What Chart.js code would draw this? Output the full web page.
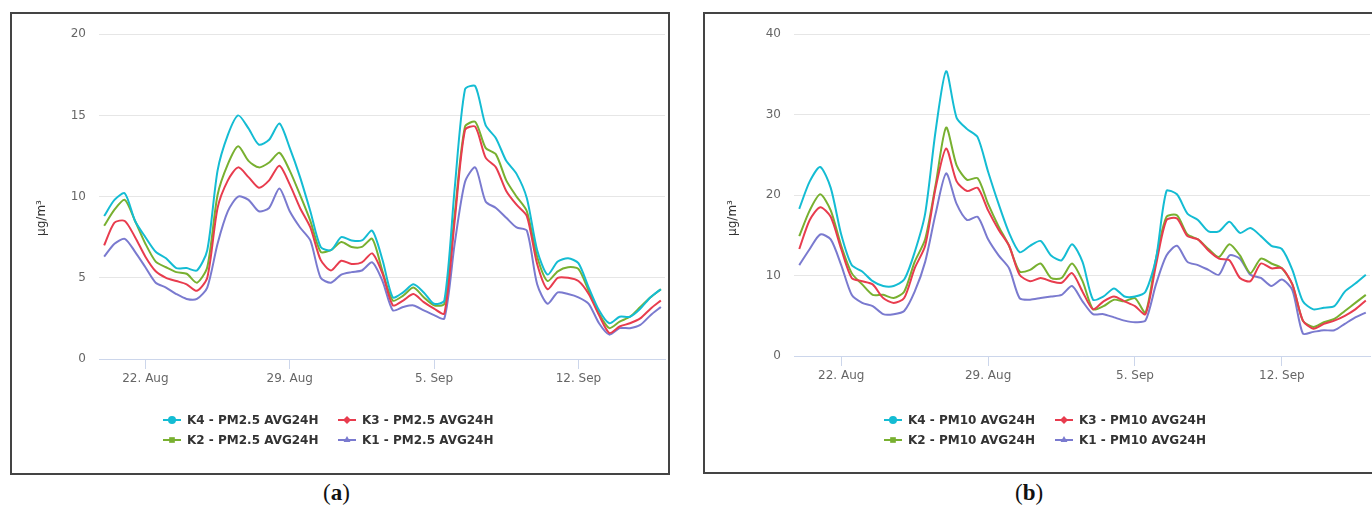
<!DOCTYPE html>
<html>
<head>
<meta charset="utf-8">
<title>PM2.5 / PM10 AVG24H</title>
<script src="https://cdn.jsdelivr.net/npm/chart.js"></script>
<style>
  body { margin: 0; width: 1372px; height: 511px; background: #fff; overflow: hidden; position: relative; font-family: "DejaVu Sans", sans-serif; }
  .panel { position: absolute; box-sizing: border-box; border: 2px solid #444; background: #fff; }
  .panel canvas { position: absolute; left: 0; top: 0; }
  .caption { position: absolute; top: 480px; font-family: "Liberation Serif", serif; font-size: 23px; color: #111; }
  .caption b { font-weight: bold; }
</style>
</head>
<body>

<div class="panel" style="left:10px; top:12px; width:660px; height:463px;">
  <canvas id="chartA" width="656" height="459"></canvas>
</div>
<div class="panel" style="left:703px; top:12px; width:700px; height:462px;">
  <canvas id="chartB" width="667" height="458"></canvas>
</div>
<div class="caption" style="left:323px;">(<b>a</b>)</div>
<div class="caption" style="left:1015px;">(<b>b</b>)</div>

<script>
// day of month, counted from 1 Aug (32 = 1 Sep), one value every 12 h
const days = [20, 20.5, 21, 21.5, 22, 22.5, 23, 23.5, 24, 24.5, 25, 25.5, 26, 26.5, 27, 27.5, 28, 28.5, 29, 29.5,
  30, 30.5, 31, 31.5, 32, 32.5, 33, 33.5, 34, 34.5, 35, 35.5, 36, 36.5, 37, 37.5, 38, 38.5, 39, 39.5,
  40, 40.5, 41, 41.5, 42, 42.5, 43, 43.5, 44, 44.5, 45, 45.5, 46, 46.5, 47];

const xTickDays = [22, 29, 36, 43];
const xTickLabels = ['22. Aug', '29. Aug', '5. Sep', '12. Sep'];

// (a) PM2.5
const pm25K4 = [8.8, 9.8, 10.2, 8.5, 7.5, 6.6, 6.2, 5.6, 5.6, 5.45, 6.7, 11.6, 13.8, 15.0, 14.2, 13.2, 13.5, 14.5, 13.0, 11.2,
  9.1, 6.9, 6.7, 7.5, 7.3, 7.3, 7.9, 6.1, 3.8, 4.1, 4.6, 4.1, 3.4, 3.6, 10.5, 16.6, 16.8, 14.4, 13.6, 12.2,
  11.4, 9.9, 6.7, 5.2, 6.0, 6.2, 5.9, 4.4, 3.0, 2.2, 2.6, 2.6, 3.1, 3.8, 4.3];
const pm25K3 = [7.0, 8.4, 8.5, 7.5, 6.3, 5.4, 5.0, 4.8, 4.6, 4.2, 5.0, 9.3, 11.0, 11.8, 11.2, 10.55, 11.0, 11.9, 10.75, 9.3,
  8.1, 6.1, 5.45, 6.05, 5.85, 5.95, 6.5, 5.25, 3.3, 3.6, 4.0, 3.5, 3.1, 2.8, 8.5, 14.1, 14.3, 12.4, 11.8, 10.35,
  9.5, 8.8, 5.85, 4.3, 5.0, 5.0, 4.8, 4.0, 2.7, 1.6, 2.0, 2.2, 2.5, 3.1, 3.6];
const pm25K2 = [8.2, 9.2, 9.8, 8.5, 7.1, 6.0, 5.65, 5.35, 5.25, 4.7, 5.65, 10.1, 12.0, 13.1, 12.2, 11.8, 12.1, 12.7, 11.6, 10.1,
  8.5, 6.6, 6.7, 7.2, 6.9, 6.9, 7.4, 5.4, 3.6, 3.9, 4.4, 3.8, 3.3, 3.4, 8.9, 14.3, 14.6, 13.0, 12.6, 11.0,
  10.0, 9.1, 6.3, 4.8, 5.4, 5.65, 5.55, 4.2, 2.8, 1.9, 2.3, 2.6, 3.2, 3.8, 4.3];
const pm25K1 = [6.3, 7.1, 7.4, 6.6, 5.65, 4.7, 4.4, 4.0, 3.7, 3.7, 4.4, 7.1, 9.1, 10.0, 9.8, 9.1, 9.3, 10.5, 9.1, 8.1,
  7.3, 5.0, 4.7, 5.2, 5.35, 5.45, 5.95, 4.8, 3.0, 3.2, 3.3, 3.0, 2.7, 2.5, 7.1, 10.9, 11.8, 9.7, 9.3, 8.7,
  8.1, 7.9, 4.6, 3.4, 4.1, 4.0, 3.8, 3.4, 2.2, 1.5, 1.9, 1.9, 2.1, 2.7, 3.2];

// (b) PM10
const pm10K4 = [18.3, 21.7, 23.5, 20.9, 15.1, 11.3, 10.5, 9.3, 8.7, 8.7, 9.5, 12.9, 17.7, 28.0, 35.4, 29.6, 28.2, 27.2, 22.9, 18.9,
  15.3, 12.9, 13.7, 14.3, 12.5, 11.9, 13.9, 11.7, 7.0, 7.4, 8.4, 7.4, 7.4, 8.0, 12.1, 20.5, 20.1, 17.7, 16.9, 15.5,
  15.5, 16.7, 15.3, 15.9, 14.9, 13.7, 13.3, 10.7, 6.8, 5.8, 6.0, 6.2, 8.0, 9.0, 10.1];
const pm10K3 = [13.3, 16.9, 18.5, 17.3, 13.3, 9.7, 9.3, 8.9, 7.2, 6.6, 7.2, 10.9, 13.7, 20.9, 25.8, 21.7, 20.5, 20.9, 18.1, 15.7,
  13.7, 10.1, 9.3, 9.7, 9.3, 9.1, 10.3, 8.0, 5.8, 6.8, 7.4, 6.8, 6.2, 5.2, 11.3, 16.9, 17.1, 14.9, 14.5, 13.1,
  12.1, 11.9, 9.7, 9.3, 11.5, 10.9, 10.9, 8.9, 4.4, 3.4, 4.0, 4.4, 5.0, 5.8, 6.9];
const pm10K2 = [14.9, 18.1, 20.1, 18.1, 13.7, 10.3, 8.9, 7.6, 7.6, 7.2, 8.0, 11.7, 14.5, 21.3, 28.4, 23.7, 21.9, 22.1, 18.9, 16.1,
  13.7, 10.5, 10.7, 11.5, 9.7, 9.7, 11.5, 9.3, 5.8, 6.2, 7.0, 6.8, 7.2, 5.4, 12.1, 17.3, 17.5, 15.1, 14.5, 13.3,
  12.3, 13.9, 12.5, 10.3, 12.1, 11.5, 10.9, 8.9, 4.4, 3.6, 4.2, 4.6, 5.6, 6.6, 7.6];
const pm10K1 = [11.3, 13.3, 15.1, 14.5, 11.3, 7.6, 6.6, 6.2, 5.2, 5.2, 5.6, 8.0, 11.7, 17.7, 22.7, 18.9, 16.9, 17.3, 14.5, 12.5,
  10.9, 7.2, 7.0, 7.2, 7.4, 7.6, 8.7, 6.8, 5.2, 5.2, 4.8, 4.4, 4.2, 4.4, 8.9, 12.5, 13.7, 11.7, 11.3, 10.7,
  10.1, 12.5, 12.1, 10.1, 9.7, 8.7, 9.5, 8.2, 2.8, 3.0, 3.2, 3.2, 4.0, 4.8, 5.4];

const colors = { K4: '#14bcd3', K3: '#e83c4e', K2: '#78b030', K1: '#7a7acf' };

// legend in two rows (K4 K3 / K2 K1) plus the rotated unit title
const sideBits = {
  id: 'sideBits',
  afterDraw(chart, args, opts) {
    const ctx = chart.ctx;
    ctx.save();
    chart.data.datasets.forEach((ds, i) => {
      const x = opts.x + (i % 2) * opts.colGap;
      const y = opts.y + Math.floor(i / 2) * 20;
      ctx.strokeStyle = ds.borderColor;
      ctx.lineWidth = 2;
      ctx.beginPath();
      ctx.moveTo(x, y);
      ctx.lineTo(x + 18, y);
      ctx.stroke();
      ctx.fillStyle = ds.borderColor;
      Chart.helpers.drawPoint(ctx, { pointStyle: ds.pointStyle, radius: 4, rotation: 0, borderWidth: 0 }, x + 9, y);
      ctx.fillStyle = '#333';
      ctx.font = 'bold 12px "DejaVu Sans"';
      ctx.textAlign = 'left';
      ctx.textBaseline = 'middle';
      ctx.fillText(ds.label, x + 24, y + 1);
    });

    ctx.translate(opts.titleX, opts.titleY);
    ctx.rotate(-Math.PI / 2);
    ctx.fillStyle = '#333';
    ctx.font = '12px "DejaVu Sans"';
    ctx.textAlign = 'center';
    ctx.textBaseline = 'middle';
    ctx.fillText('μg/m³', 0, 0);
    ctx.restore();
  }
};

function makeSet(label, values, color, shape) {
  return {
    label: label,
    data: days.map((d, i) => ({ x: d, y: values[i] })),
    borderColor: color,
    backgroundColor: color,
    borderWidth: 2,
    pointRadius: 0,
    pointStyle: shape,
    tension: 0.25
  };
}

function renderChart(id, pm, series, yMax, yStep, box) {
  const ctx = document.getElementById(id).getContext('2d');
  return new Chart(ctx, {
    type: 'line',
    data: {
      datasets: [
        makeSet('K4 - ' + pm + ' AVG24H', series[0], colors.K4, 'circle'),
        makeSet('K3 - ' + pm + ' AVG24H', series[1], colors.K3, 'rectRot'),
        makeSet('K2 - ' + pm + ' AVG24H', series[2], colors.K2, 'rect'),
        makeSet('K1 - ' + pm + ' AVG24H', series[3], colors.K1, 'triangle')
      ]
    },
    options: {
      responsive: false,
      animation: false,
      devicePixelRatio: 1,
      layout: { padding: { top: box.top, right: box.right, bottom: box.bottom, left: 0 } },
      plugins: {
        legend: { display: false },
        tooltip: { enabled: false },
        sideBits: box.legend
      },
      scales: {
        x: {
          type: 'linear',
          min: 19.75,
          max: 47.2,
          afterBuildTicks: axis => { axis.ticks = xTickDays.map(v => ({ value: v })); },
          afterFit: axis => { axis.height = 30; },
          ticks: {
            color: '#666',
            font: { family: 'DejaVu Sans', size: 12 },
            padding: 3,
            maxRotation: 0,
            callback: v => xTickLabels[xTickDays.indexOf(v)]
          },
          grid: { drawOnChartArea: false, drawTicks: true, tickLength: 10, color: '#ccd6eb' },
          border: { color: '#ccd6eb', width: 1 }
        },
        y: {
          min: 0,
          max: yMax,
          afterFit: axis => { axis.width = box.left; },
          ticks: { stepSize: yStep, color: '#666', font: { family: 'DejaVu Sans', size: 12 }, padding: 13 },
          grid: { color: '#e6e6e6', drawTicks: false },
          border: { display: false }
        }
      }
    },
    plugins: [sideBits]
  });
}

renderChart('chartA', 'PM2.5', [pm25K4, pm25K3, pm25K2, pm25K1], 20, 5, {
  left: 87, top: 16, right: 3, bottom: 84,
  legend: { x: 151, colGap: 175, y: 406, titleX: 30, titleY: 204 }
});
renderChart('chartB', 'PM10', [pm10K4, pm10K3, pm10K2, pm10K1], 40, 10, {
  left: 89, top: 11, right: 2, bottom: 86,
  legend: { x: 179, colGap: 171, y: 406, titleX: 28, titleY: 204 }
});
</script>
</body>
</html>
